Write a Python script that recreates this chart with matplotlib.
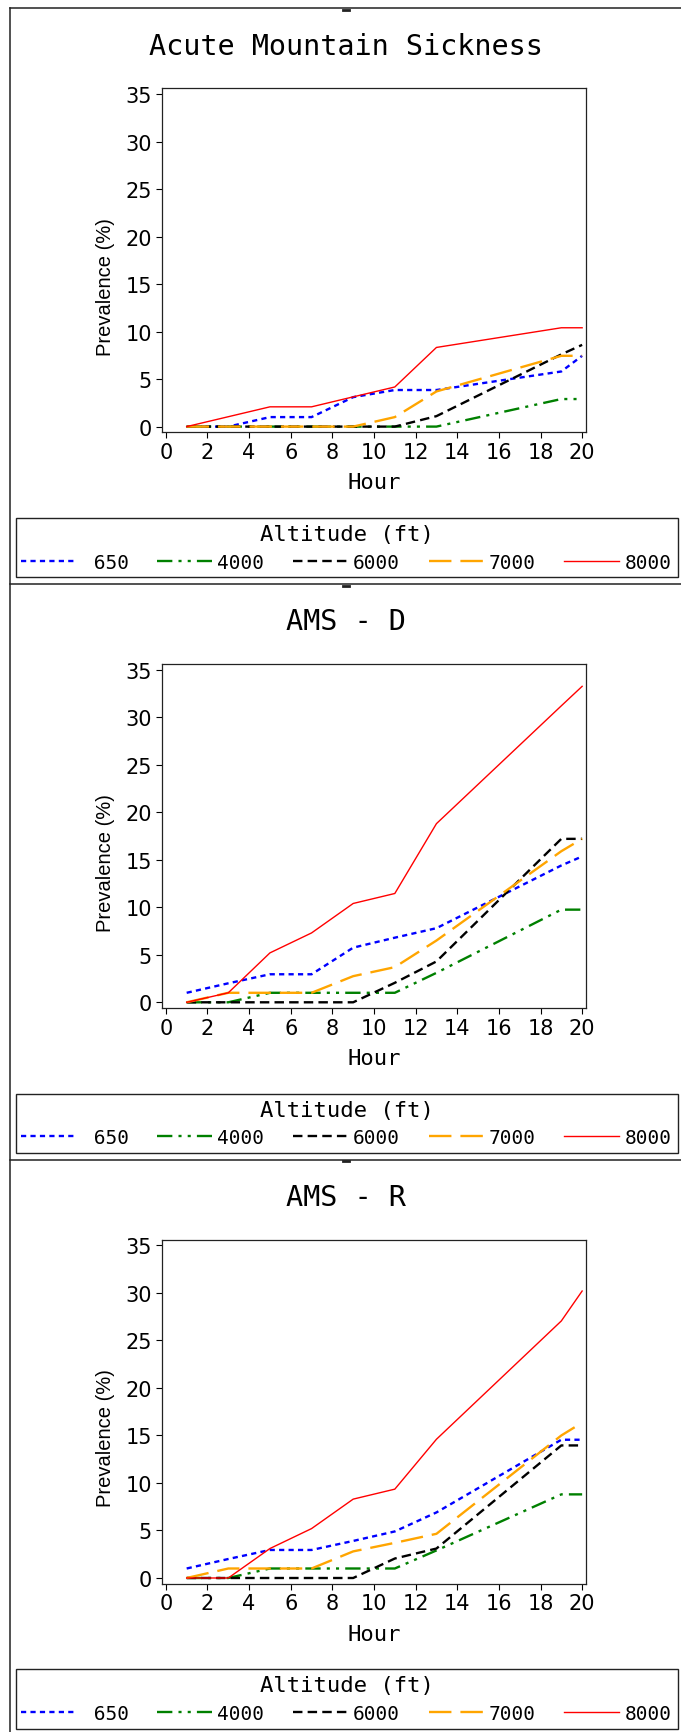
import matplotlib
matplotlib.use("Agg")
import matplotlib.pyplot as plt
from matplotlib.lines import Line2D

# data (prevalence %, by hour)
hours = [1, 3, 5, 7, 9, 11, 13, 19, 20]
altitudes = ["650", "4000", "6000", "7000", "8000"]

ams_650 = [0, 0, 1.0, 1.0, 3.1, 3.85, 3.85, 5.8, 7.45]
ams_4000 = [0, 0, 0, 0, 0, 0, 0, 2.9, 2.9]
ams_6000 = [0, 0, 0, 0, 0, 0, 1.1, 7.6, 8.6]
ams_7000 = [0, 0, 0, 0, 0, 1.0, 3.7, 7.45, 7.45]
ams_8000 = [0, 1.04, 2.08, 2.08, 3.13, 4.17, 8.33, 10.4, 10.4]

amsd_650 = [1.0, 2.0, 2.95, 2.95, 5.75, 6.8, 7.8, 14.4, 15.35]
amsd_4000 = [0, 0, 1.0, 1.0, 1.0, 1.0, 3.1, 9.75, 9.75]
amsd_6000 = [0, 0, 0, 0, 0, 2.05, 4.3, 17.2, 17.2]
amsd_7000 = [0, 1.0, 1.0, 1.0, 2.75, 3.7, 6.5, 15.9, 17.2]
amsd_8000 = [0, 1.0, 5.2, 7.3, 10.4, 11.45, 18.8, 31.2, 33.25]

amsr_650 = [1.0, 2.0, 2.95, 2.95, 3.9, 4.9, 6.9, 14.55, 14.55]
amsr_4000 = [0, 0, 1.0, 1.0, 1.0, 1.0, 2.9, 8.8, 8.8]
amsr_6000 = [0, 0, 0, 0, 0, 2.05, 3.1, 13.95, 13.95]
amsr_7000 = [0, 1.0, 1.0, 1.0, 2.8, 3.7, 4.65, 15.0, 16.35]
amsr_8000 = [0, 0, 3.1, 5.2, 8.3, 9.35, 14.6, 27.05, 30.2]

panels = [
    ("Acute Mountain Sickness", [ams_650, ams_4000, ams_6000, ams_7000, ams_8000]),
    ("AMS - D", [amsd_650, amsd_4000, amsd_6000, amsd_7000, amsd_8000]),
    ("AMS - R", [amsr_650, amsr_4000, amsr_6000, amsr_7000, amsr_8000]),
]

# line styles per altitude
colors = ["#0000ff", "#008000", "#000000", "#ffa500", "#ff0000"]
styles = [
    (0, (2.2, 1.8)),
    (0, (6.5, 2.6, 1.3, 2.6, 1.3, 2.6)),
    (0, (4.0, 2.2)),
    (0, (9.5, 3.8)),
    "-",
]
widths = [1.7, 1.7, 1.7, 1.7, 1.0]

W, H = 681, 1733
MONO = "DejaVu Sans Mono"
SANS = "DejaVu Sans"


def fx(px):
    return px / W


def fy(py):
    return 1 - py / H


fig = plt.figure(figsize=(W / 100, H / 100), dpi=100)

panel_step = 575.7

for i, (title, series) in enumerate(panels):
    off = i * panel_step

    ax = fig.add_axes([fx(161.7), fy(433.3 + off), fx(586.3 - 161.7),
                       (433.3 - 89.3) / H])
    handles = []
    for vals, c, ls, lw in zip(series, colors, styles, widths):
        ln, = ax.plot(hours, vals, color=c, linestyle=ls, linewidth=lw)
        handles.append(ln)

    ax.set_xlim(-0.2, 20.2)
    ax.set_ylim(-0.6, 35.6)
    ax.set_xticks(range(0, 21, 2))
    ax.set_yticks(range(0, 36, 5))
    ax.tick_params(direction="out", length=4, width=0.8, labelsize=15,
                   pad=3)
    for lab in ax.get_xticklabels() + ax.get_yticklabels():
        lab.set_family(SANS)
    for sp in ax.spines.values():
        sp.set_linewidth(0.9)
        sp.set_color("#222222")

    ax.text(-0.133, 0.425, "Prevalence (%)", transform=ax.transAxes,
            rotation=90, ha="center", va="center", fontsize=14.5,
            family="Liberation Sans")

    fig.text(fx(374), fy(483.3 + off), "Hour", ha="center", va="center",
             fontsize=16, family=MONO)
    fig.text(fx(345.5), fy(46.7 + off), title, ha="center", va="center",
             fontsize=20.5, family=MONO)

    labels = [a.rjust(4) for a in altitudes]
    leg = fig.legend(handles, labels, loc="upper left", ncol=5,
                     mode="expand", bbox_to_anchor=(fx(15.6), fy(519 + off),
                                                    fx(662), 0),
                     borderaxespad=0, borderpad=0.3, labelspacing=0.45,
                     handlelength=2.8, handletextpad=0.3,
                     title="Altitude (ft)", fancybox=False, framealpha=1,
                     edgecolor="#222222",
                     prop={"family": MONO, "size": 14},
                     title_fontproperties={"family": MONO, "size": 16})
    leg.get_frame().set_linewidth(1.0)

    # panel border and little mark at the top centre
    fig.add_artist(Line2D([fx(10.4), 1.0], [fy(9.3 + off)] * 2,
                          color="#222222", linewidth=1.1))
    fig.add_artist(Line2D([fx(343), fx(348.5)], [fy(11 + off)] * 2,
                          color="#222222", linewidth=2))

fig.add_artist(Line2D([fx(10.4)] * 2, [fy(9.3), 0], color="#222222",
                      linewidth=1.1))

fig.savefig("out.png", dpi=100)
